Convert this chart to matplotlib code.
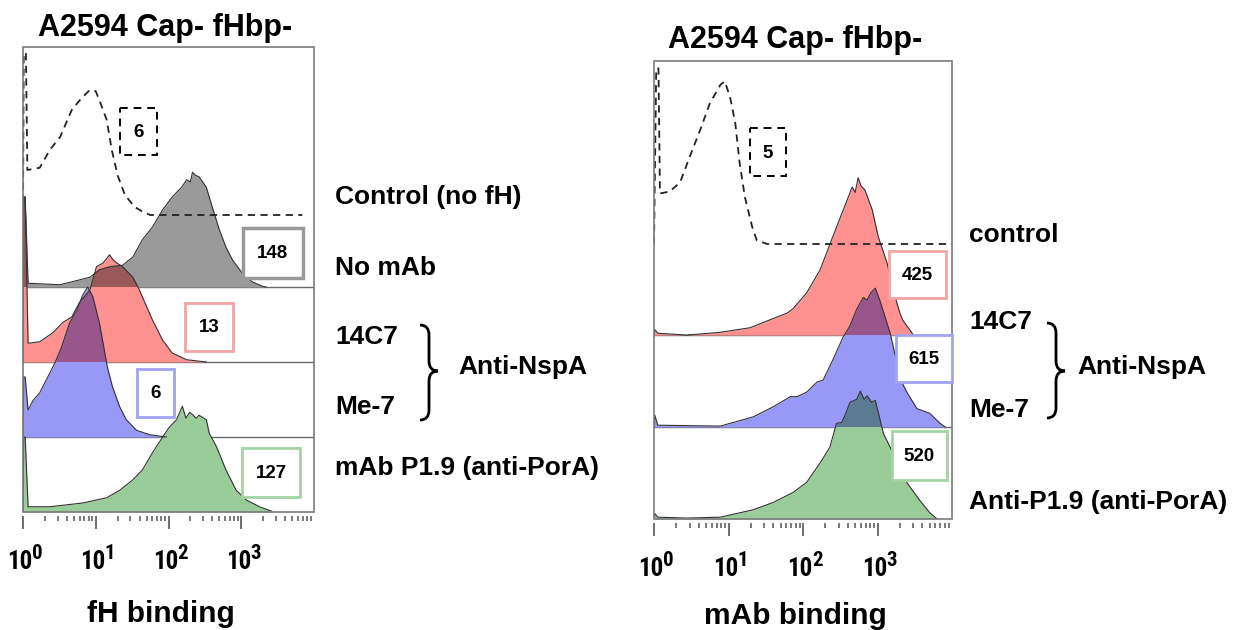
import numpy as np
import matplotlib
matplotlib.use('Agg')
import matplotlib.pyplot as plt
import matplotlib.transforms as mtransforms
from matplotlib.patches import Rectangle, PathPatch
from matplotlib.path import Path
from matplotlib.colors import to_rgb
from matplotlib.ticker import FixedLocator, NullFormatter

plt.rcParams['font.family'] = ['Liberation Sans', 'DejaVu Sans']
plt.rcParams['font.weight'] = 'bold'

### Histogram data
# x values in log10 units of fluorescence, heights in "row" units

# Left panel: fH binding
ctrl_L_x = [0.0, 0.01, 0.04, 0.06, 0.23, 0.37, 0.51, 0.67, 0.78, 0.90, 0.96, 1.00, 1.05, 1.15, 1.22, 1.30, 1.40, 1.53, 1.67, 1.75, 3.84]
ctrl_L_h = [0.0, 2.16, 2.16, 0.60, 0.63, 0.87, 1.04, 1.40, 1.53, 1.65, 1.67, 1.65, 1.53, 1.27, 0.87, 0.53, 0.27, 0.11, 0.03, 0.0, 0.0]

nomab_L_x = [0.0, 0.01, 0.03, 0.07, 0.51, 0.92, 1.05, 1.19, 1.37, 1.51, 1.64, 1.78, 1.92, 2.05, 2.12, 2.18, 2.25, 2.30, 2.33, 2.37, 2.42, 2.52, 2.60, 2.70, 2.79, 2.88, 3.01, 3.15, 3.29, 3.34]
nomab_L_h = [0.0, 1.20, 1.20, 0.05, 0.03, 0.13, 0.23, 0.27, 0.29, 0.40, 0.63, 0.80, 1.03, 1.20, 1.27, 1.33, 1.43, 1.40, 1.53, 1.49, 1.47, 1.33, 1.07, 0.76, 0.53, 0.36, 0.19, 0.07, 0.01, 0.0]

c14_L_x = [0.0, 0.01, 0.03, 0.07, 0.23, 0.41, 0.55, 0.67, 0.78, 0.92, 1.01, 1.10, 1.19, 1.24, 1.29, 1.37, 1.51, 1.60, 1.64, 1.78, 1.92, 2.05, 2.25, 2.52]
c14_L_h = [0.0, 2.20, 2.20, 0.25, 0.27, 0.39, 0.53, 0.60, 0.80, 0.96, 1.27, 1.32, 1.43, 1.36, 1.32, 1.27, 1.13, 0.96, 0.87, 0.56, 0.29, 0.12, 0.03, 0.0]

me7_L_x = [0.0, 0.01, 0.03, 0.07, 0.14, 0.23, 0.34, 0.44, 0.53, 0.64, 0.74, 0.82, 0.89, 0.96, 1.05, 1.16, 1.23, 1.33, 1.42, 1.56, 1.74, 1.97]
me7_L_h = [0.0, 0.80, 0.80, 0.36, 0.49, 0.59, 0.80, 0.99, 1.20, 1.52, 1.69, 1.89, 2.00, 1.87, 1.52, 0.93, 0.67, 0.40, 0.23, 0.09, 0.03, 0.0]

p19_L_x = [0.0, 0.01, 0.03, 0.07, 0.37, 0.82, 1.15, 1.33, 1.51, 1.64, 1.78, 1.92, 2.01, 2.11, 2.19, 2.24, 2.29, 2.33, 2.38, 2.42, 2.52, 2.56, 2.66, 2.79, 2.93, 3.07, 3.25, 3.42]
p19_L_h = [0.0, 1.00, 1.00, 0.07, 0.07, 0.12, 0.19, 0.29, 0.43, 0.56, 0.79, 1.00, 1.13, 1.23, 1.41, 1.25, 1.33, 1.30, 1.25, 1.29, 1.23, 1.05, 0.87, 0.56, 0.29, 0.16, 0.07, 0.01]

# Right panel: mAb binding
ctrl_R_x = [0.0, 0.03, 0.06, 0.08, 0.21, 0.35, 0.48, 0.62, 0.75, 0.89, 0.95, 1.02, 1.09, 1.15, 1.22, 1.32, 1.38, 1.52, 4.0]
ctrl_R_h = [0.0, 1.91, 1.91, 0.55, 0.57, 0.67, 0.95, 1.24, 1.53, 1.73, 1.77, 1.60, 1.32, 0.88, 0.51, 0.18, 0.04, 0.0, 0.0]

c14_R_x = [0.0, 0.01, 0.05, 0.44, 0.89, 1.29, 1.60, 1.79, 1.87, 2.05, 2.23, 2.40, 2.54, 2.66, 2.70, 2.74, 2.78, 2.83, 2.93, 3.01, 3.13, 3.21, 3.30, 3.34, 3.44, 3.48]
c14_R_h = [0.0, 0.06, 0.02, 0.0, 0.03, 0.08, 0.18, 0.24, 0.29, 0.46, 0.71, 1.07, 1.36, 1.61, 1.55, 1.71, 1.62, 1.58, 1.36, 1.07, 0.78, 0.49, 0.24, 0.16, 0.05, 0.0]

me7_R_x = [0.0, 0.01, 0.05, 0.89, 1.33, 1.60, 1.83, 1.92, 2.05, 2.19, 2.27, 2.40, 2.54, 2.63, 2.72, 2.81, 2.86, 2.91, 2.97, 3.03, 3.10, 3.17, 3.26, 3.33, 3.40, 3.53, 3.70, 3.84, 3.91]
me7_R_h = [0.0, 0.13, 0.02, 0.01, 0.11, 0.22, 0.33, 0.33, 0.38, 0.49, 0.51, 0.73, 0.98, 1.10, 1.28, 1.41, 1.38, 1.46, 1.51, 1.38, 1.20, 1.02, 0.70, 0.48, 0.37, 0.20, 0.15, 0.04, 0.0]

p19_R_x = [0.0, 0.01, 0.05, 0.44, 0.89, 1.33, 1.60, 1.87, 2.05, 2.23, 2.36, 2.45, 2.52, 2.58, 2.63, 2.72, 2.77, 2.82, 2.86, 2.92, 2.97, 3.08, 3.17, 3.26, 3.40, 3.57, 3.70, 3.80]
p19_R_h = [0.0, 0.06, 0.02, 0.01, 0.02, 0.10, 0.18, 0.29, 0.40, 0.61, 0.78, 1.04, 1.05, 1.16, 1.27, 1.30, 1.39, 1.30, 1.34, 1.27, 1.29, 0.93, 0.78, 0.64, 0.39, 0.20, 0.07, 0.0]

# Median fluorescence values shown in boxes
counts_L = ['6', '148', '13', '6', '127']
counts_R = ['5', '425', '615', '520']

labels_L = ['Control (no fH)', 'No mAb', '14C7', 'Me-7', 'mAb P1.9 (anti-PorA)']
labels_R = ['control', '14C7', 'Me-7', 'Anti-P1.9 (anti-PorA)']
title = 'A2594 Cap- fHbp-'
tick_vals = [1, 10, 100, 1000]
tick_exps = ['0', '1', '2', '3']

### Styles
gray_c = '#9a9a9a'
red_c = '#ff9191'
blue_c = '#9898f6'
green_c = '#99cc99'
tick_font = ['Liberation Sans Narrow', 'Roboto Condensed', 'Open Sans Condensed', 'Liberation Sans']

W, H = 1238, 630
fig = plt.figure(figsize=(W / 100, H / 100), dpi=100)
# pixel coordinates, origin top-left
px = mtransforms.Affine2D().scale(1 / W, -1 / H).translate(0, 1) + fig.transFigure


def multiply(c1, c2):
    return tuple(np.array(to_rgb(c1)) * np.array(to_rgb(c2)))


def make_panel(rect, ytop, ctrl, rows, ctrl_base, tick_y):
    l, t, r, b = rect
    ax = fig.add_axes([l / W, 1 - b / H, (r - l) / W, (b - t) / H])
    ax.set_xscale('log')
    ax.set_xlim(1, 1e4)
    ax.set_ylim(0, ytop)
    ax.set_yticks([])
    for s in ax.spines.values():
        s.set_visible(False)
    ax.spines['bottom'].set_position(('outward', 3))
    ax.add_patch(Rectangle((0, 0), 1, 1, transform=ax.transAxes, fill=False,
                           ec='#7a7a7a', lw=1.2, zorder=6, clip_on=False))

    # baselines of the stacked histograms
    for (x, h, base, col) in rows:
        if base > 0:
            ax.axhline(base, color='#6a6a6a', lw=1.0, zorder=1)

    polys = []
    for (x, h, base, col) in rows:
        xv = 10 ** np.array(x)
        hv = base + np.array(h)
        polys.append(ax.fill_between(xv, base, hv, color=col, lw=0, zorder=2))
    # overlapping parts look like a multiply blend
    for i in range(len(rows)):
        for j in range(i + 1, len(rows)):
            x, h, base, col = rows[j]
            ov = ax.fill_between(10 ** np.array(x), base, base + np.array(h),
                                 color=multiply(rows[i][3], col), lw=0, zorder=3)
            ov.set_clip_path(polys[i].get_paths()[0], ax.transData)
    for (x, h, base, col) in rows:
        ax.plot(10 ** np.array(x), base + np.array(h), color='#333333', lw=0.8, zorder=4)

    cx, ch = ctrl
    ax.plot(10 ** np.array(cx), ctrl_base + np.array(ch), color='#222222', lw=1.3,
            dashes=(4, 3), zorder=5)

    ax.xaxis.set_major_locator(FixedLocator(tick_vals))
    ax.xaxis.set_minor_locator(FixedLocator([m * 10 ** d for d in range(4) for m in range(2, 10)]))
    ax.xaxis.set_major_formatter(NullFormatter())
    ax.xaxis.set_minor_formatter(NullFormatter())
    ax.tick_params(axis='x', which='major', direction='out', length=9, width=1.2, color='#555555')
    ax.tick_params(axis='x', which='minor', direction='out', length=3.8, width=1.1, color='#555555')

    bt = mtransforms.blended_transform_factory(ax.transData, px)
    for v, e in zip(tick_vals, tick_exps):
        ax.text(v, tick_y, '10', transform=mtransforms.offset_copy(bt, fig=fig, x=-3, units='dots'),
                ha='center', va='baseline', fontsize=18, clip_on=False, family=tick_font)
        ax.text(v, tick_y - 10, e, transform=mtransforms.offset_copy(bt, fig=fig, x=9, units='dots'),
                ha='left', va='baseline', fontsize=15, clip_on=False, family=tick_font)
    return ax


rows_L = [(nomab_L_x, nomab_L_h, 3, gray_c),
          (c14_L_x, c14_L_h, 2, red_c),
          (me7_L_x, me7_L_h, 1, blue_c),
          (p19_L_x, p19_L_h, 0, green_c)]
make_panel((23, 47, 314, 512), 6.2, (ctrl_L_x, ctrl_L_h), rows_L, 3.96, 569)

rows_R = [(c14_R_x, c14_R_h, 2, red_c),
          (me7_R_x, me7_R_h, 1, blue_c),
          (p19_R_x, p19_R_h, 0, green_c)]
make_panel((654, 61, 952, 519), 4.98, (ctrl_R_x, ctrl_R_h), rows_R, 2.99, 576)

### Titles and axis labels
fig.text(165, 36, title, transform=px, ha='center', va='baseline', fontsize=22)
fig.text(795, 48, title, transform=px, ha='center', va='baseline', fontsize=22)
fig.text(161, 622, 'fH binding', transform=px, ha='center', va='baseline', fontsize=21.5)
fig.text(795, 624, 'mAb binding', transform=px, ha='center', va='baseline', fontsize=21.5)

### Count boxes (x0, y0, x1, y1 in pixels)
box_L = [(120, 108, 157, 155), (243, 228, 303, 278), (185, 303, 233, 351),
         (137, 369, 174, 417), (242, 448, 300, 497)]
box_L_style = [('k', 1.4, (0, (4, 3))), ('#999999', 2.5, 'solid'), ('#f4a3a3', 2.0, 'solid'),
               ('#a3a3f4', 2.0, 'solid'), ('#a3d3a3', 2.0, 'solid')]
box_R = [(750, 128, 786, 176), (889, 251, 946, 298), (896, 335, 952, 382), (892, 431, 947, 480)]
box_R_style = [('k', 1.4, (0, (4, 3))), ('#f4a3a3', 2.0, 'solid'), ('#a3a3f4', 2.0, 'solid'),
               ('#a3d3a3', 2.0, 'solid')]

for boxes, styles, counts in [(box_L, box_L_style, counts_L), (box_R, box_R_style, counts_R)]:
    for (x0, y0, x1, y1), (ec, lw, ls), s in zip(boxes, styles, counts):
        fig.add_artist(Rectangle((x0, y0), x1 - x0, y1 - y0, transform=px, fill=True,
                                 fc='white', ec=ec, lw=lw, ls=ls, zorder=7))
        fig.text((x0 + x1) / 2, (y0 + y1) / 2 + 1, s, transform=px, ha='center', va='center',
                 fontsize=13.5, zorder=8)

### Row labels
ylab_L = [197, 268, 337, 407, 468]
for s, y in zip(labels_L, ylab_L):
    fig.text(335, y, s, transform=px, va='center', fontsize=19)
ylab_R = [235, 322, 410, 502]
for s, y in zip(labels_R, ylab_R):
    fig.text(969, y, s, transform=px, va='center', fontsize=19)
fig.text(458, 367, 'Anti-NspA', transform=px, va='center', fontsize=19)
fig.text(1077, 367, 'Anti-NspA', transform=px, va='center', fontsize=19)


def brace(x0, xm, xt, top, tip, bot):
    verts = [(x0, top), (xm, top), (xm, top + 10), (xm, tip - 10), (xm, tip), (xt, tip),
             (xm, tip), (xm, tip + 10), (xm, bot - 10), (xm, bot), (x0, bot)]
    codes = [Path.MOVETO, Path.CURVE3, Path.CURVE3, Path.LINETO, Path.CURVE3, Path.CURVE3,
             Path.CURVE3, Path.CURVE3, Path.LINETO, Path.CURVE3, Path.CURVE3]
    fig.add_artist(PathPatch(Path(verts, codes), transform=px, fill=False, lw=2.0, ec='k'))


brace(420, 429, 438, 325, 371, 420)
brace(1047, 1056, 1065, 323, 371, 418)

fig.savefig('out.png', dpi=100)
